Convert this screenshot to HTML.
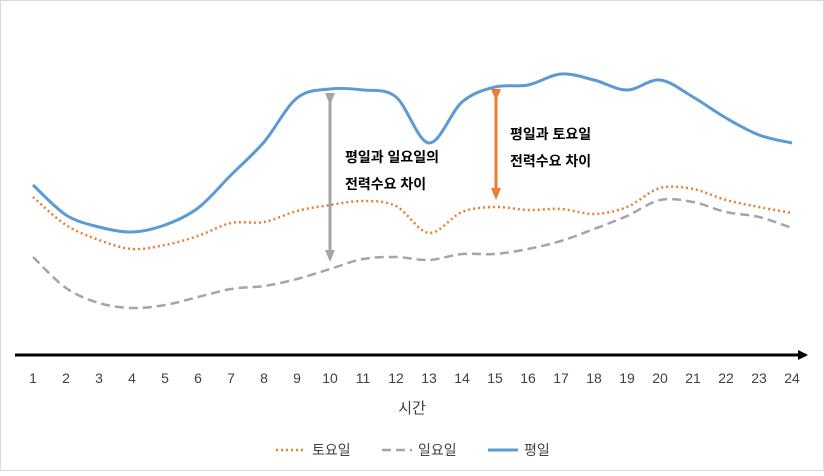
<!DOCTYPE html>
<html><head><meta charset="utf-8">
<style>
body{margin:0;background:#fff;}
svg text{font-family:"Liberation Sans","Noto Sans CJK KR",sans-serif;}
</style></head>
<body>
<svg id="chart" width="824" height="471" viewBox="0 0 824 471" xmlns="http://www.w3.org/2000/svg">
<rect x="0.5" y="0.5" width="823" height="470" fill="#fff" stroke="#d9d9d9"/>
<defs>
<marker id="ax" markerWidth="10" markerHeight="10" refX="8" refY="5" orient="auto" markerUnits="userSpaceOnUse"><path d="M0,0 L10,5 L0,10 z" fill="#000"/></marker>
<marker id="ag" markerWidth="12" markerHeight="12" refX="6" refY="6" orient="auto" markerUnits="userSpaceOnUse"><path d="M0,1 L12,6 L0,11 z" fill="#a5a5a5"/></marker>
<marker id="ao" markerWidth="12" markerHeight="12" refX="6" refY="6" orient="auto" markerUnits="userSpaceOnUse"><path d="M0,1 L12,6 L0,11 z" fill="#ed7d31"/></marker>
</defs>
<g id="series"></g>
<line x1="15" y1="355" x2="806" y2="355" stroke="#000" stroke-width="3" marker-end="url(#ax)"/>
<g id="ticks"></g>
<text x="412" y="413" font-size="15" text-anchor="middle" fill="#404040">시간</text>
<line x1="330" y1="99" x2="330" y2="256" stroke="#a5a5a5" stroke-width="3" marker-start="url(#ag)" marker-end="url(#ag)"/>
<text x="345" y="162" font-size="14" font-weight="bold" fill="#000">평일과 일요일의</text>
<text x="345" y="189" font-size="14" font-weight="bold" fill="#000">전력수요 차이</text>
<line x1="496" y1="95" x2="496" y2="194" stroke="#ed7d31" stroke-width="3" marker-start="url(#ao)" marker-end="url(#ao)"/>
<text x="510" y="139" font-size="14" font-weight="bold" fill="#000">평일과 토요일</text>
<text x="510" y="166" font-size="14" font-weight="bold" fill="#000">전력수요 차이</text>
<g>
<line x1="276" y1="450" x2="306" y2="450" stroke="#ed7d31" stroke-width="2.5" stroke-dasharray="2,3"/>
<text x="312" y="455" font-size="14" fill="#404040">토요일</text>
<line x1="382" y1="450" x2="412" y2="450" stroke="#a5a5a5" stroke-width="2.5" stroke-dasharray="9,5"/>
<text x="418" y="455" font-size="14" fill="#404040">일요일</text>
<line x1="488" y1="450" x2="518" y2="450" stroke="#5b9bd5" stroke-width="3"/>
<text x="524" y="455" font-size="14" fill="#404040">평일</text>
</g>
</svg>
<script>
const hours = [1,2,3,4,5,6,7,8,9,10,11,12,13,14,15,16,17,18,19,20,21,22,23,24];
const weekday = [170,140,128,123,130,147,180,213,257,266,265,258,212,253,268,270,281,275,265,275,258,237,220,212];
const saturday = [158,130,115,106,110,119,132,133,144,150,154,149,122,143,148,145,146,141,148,167,166,155,148,142];
const sunday = [98,67,52,47,50,58,66,69,76,86,96,98,95,101,101,106,114,126,139,155,153,143,138,127];
const xs = h => 33 + (h-1)*33;
const ys = v => 355 - v;
function smooth(vals){
  const p = vals.map((v,i)=>[xs(hours[i]),ys(v)]);
  let d = `M${p[0][0]},${p[0][1]}`;
  for(let i=0;i<p.length-1;i++){
    const p0=p[Math.max(0,i-1)],p1=p[i],p2=p[i+1],p3=p[Math.min(p.length-1,i+2)];
    const c1=[p1[0]+(p2[0]-p0[0])/6,p1[1]+(p2[1]-p0[1])/6];
    const c2=[p2[0]-(p3[0]-p1[0])/6,p2[1]-(p3[1]-p1[1])/6];
    d+=` C${c1[0]},${c1[1]} ${c2[0]},${c2[1]} ${p2[0]},${p2[1]}`;
  }
  return d;
}
const NS="http://www.w3.org/2000/svg";
const g=document.getElementById('series');
function addLine(vals,color,dash,w,name){
  const el=document.createElementNS(NS,'path');
  el.setAttribute('d',smooth(vals));
  el.setAttribute('fill','none');
  el.setAttribute('stroke',color);
  el.setAttribute('stroke-width',w);
  if(dash) el.setAttribute('stroke-dasharray',dash);
  
  
  g.appendChild(el);
}
addLine(sunday,'#a5a5a5','9,5',2.5,'sunday-line');
addLine(saturday,'#ed7d31','2,3',2.5,'saturday-line');
addLine(weekday,'#5b9bd5',null,3,'weekday-line');
const t=document.getElementById('ticks');
hours.forEach(h=>{
  const el=document.createElementNS(NS,'text');
  el.setAttribute('x',xs(h));
  el.setAttribute('y',383);
  el.setAttribute('font-size','14');
  el.setAttribute('text-anchor','middle');
  el.setAttribute('fill','#404040');
  el.textContent=h;
  
  
  t.appendChild(el);
});
</script>
</body></html>
